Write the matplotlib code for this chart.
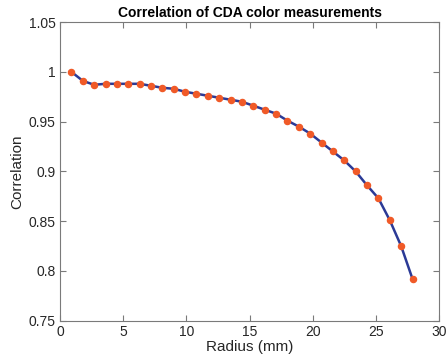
import matplotlib
matplotlib.use('Agg')
import matplotlib.pyplot as plt

# Radius (mm) and correlation values
radius = [0.9, 1.8, 2.7, 3.6, 4.5, 5.4, 6.3, 7.2, 8.1, 9.0, 9.9,
          10.8, 11.7, 12.6, 13.5, 14.4, 15.3, 16.2, 17.1, 18.0, 18.9,
          19.8, 20.7, 21.6, 22.5, 23.4, 24.3, 25.2, 26.1, 27.0, 27.9]
correlation = [1.000, 0.991, 0.987, 0.988, 0.988, 0.988, 0.988, 0.986, 0.984, 0.983, 0.980,
               0.978, 0.976, 0.974, 0.972, 0.970, 0.966, 0.962, 0.958, 0.951, 0.945,
               0.938, 0.929, 0.920, 0.911, 0.900, 0.886, 0.873, 0.851, 0.825, 0.792]

xticks = [0, 5, 10, 15, 20, 25, 30]
yticks = [0.75, 0.8, 0.85, 0.9, 0.95, 1.0, 1.05]
ytick_labels = ['0.75', '0.8', '0.85', '0.9', '0.95', '1', '1.05']

plt.rcParams['font.family'] = ['Liberation Sans', 'DejaVu Sans']

fig = plt.figure(figsize=(4.48, 3.62), dpi=100)
ax = fig.add_axes([0.134, 0.114, 0.846, 0.825])

ax.plot(radius, correlation, color='#2b3a96', linewidth=1.8,
        marker='o', markersize=4.4, markerfacecolor='#f05a28',
        markeredgecolor='#f05a28')

ax.set_xlim(0, 30)
ax.set_ylim(0.75, 1.05)
ax.set_xticks(xticks)
ax.set_yticks(yticks)
ax.set_yticklabels(ytick_labels)

axis_gray = '#7a7a7a'
for s in ax.spines.values():
    s.set_color(axis_gray)
    s.set_linewidth(0.8)
ax.tick_params(direction='in', top=True, right=True, length=4,
               color=axis_gray, labelsize=10, labelcolor='#262626', pad=3)

ax.set_xlabel('Radius (mm)', fontsize=11, color='#262626', labelpad=1)
ax.set_ylabel('Correlation', fontsize=11, color='#262626', labelpad=3)
ax.set_title('Correlation of CDA color measurements', fontsize=10,
             fontweight='bold', color='black', pad=4)

fig.savefig('out.png', dpi=100)
